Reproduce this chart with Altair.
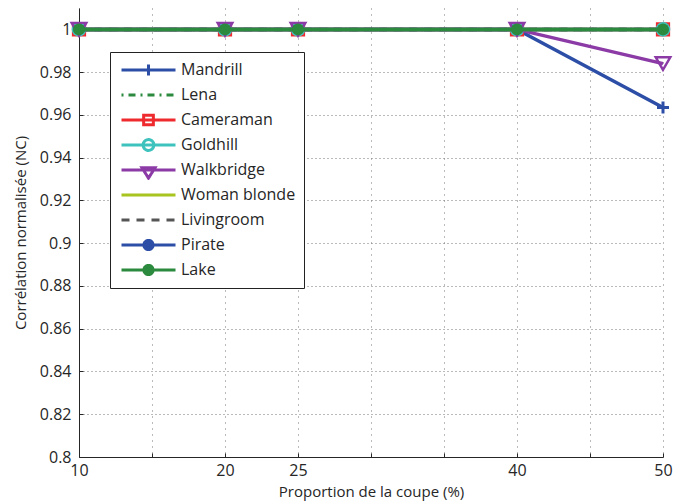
import altair as alt
import pandas as pd

# ---------------- data ----------------
x_values = [10, 20, 25, 40, 50]
series_names = ["Mandrill", "Lena", "Cameraman", "Goldhill", "Walkbridge",
                "Woman blonde", "Livingroom", "Pirate", "Lake"]
mandrill = [1.0, 1.0, 1.0, 1.0, 0.9635]
lena = [1.0, 1.0, 1.0, 1.0, 1.0]
cameraman = [1.0, 1.0, 1.0, 1.0, 1.0]
goldhill = [1.0, 1.0, 1.0, 1.0, 1.0]
walkbridge = [1.0, 1.0, 1.0, 1.0, 0.984]
woman_blonde = [1.0, 1.0, 1.0, 1.0, 1.0]
livingroom = [1.0, 1.0, 1.0, 1.0, 1.0]
pirate = [1.0, 1.0, 1.0, 1.0, 1.0]
lake = [1.0, 1.0, 1.0, 1.0, 1.0]

x_ticks = [10, 15, 20, 25, 30, 35, 40, 45, 50]
x_labelled = [10, 20, 25, 40, 50]
y_ticks = [0.8, 0.82, 0.84, 0.86, 0.88, 0.9, 0.92, 0.94, 0.96, 0.98, 1.0]

series_values = [mandrill, lena, cameraman, goldhill, walkbridge,
                 woman_blonde, livingroom, pirate, lake]
rows = []
for name, vals in zip(series_names, series_values):
    for xv, yv in zip(x_values, vals):
        rows.append({"Image": name, "Proportion": xv, "NC": yv})
df = pd.DataFrame(rows)

# ---------------- styles ----------------
BLUE = "#2d4ea6"
GREEN = "#2b8a3e"
colors = {
    "Mandrill": BLUE, "Lena": GREEN, "Cameraman": "#ee2a2f",
    "Goldhill": "#3ec2be", "Walkbridge": "#8b3aa6", "Woman blonde": "#a8c41f",
    "Livingroom": "#555555", "Pirate": BLUE, "Lake": GREEN,
}
dashes = {"Lena": [2, 5, 7, 5], "Livingroom": [8, 7]}
PLUS = "M-1,0H1M0,-1V1"
markers = {
    "Mandrill": dict(shape=PLUS, filled=False, size=144, strokeWidth=3),
    "Cameraman": dict(shape="square", filled=False, size=150, strokeWidth=2),
    "Goldhill": dict(shape="circle", filled=False, size=160, strokeWidth=2),
    "Walkbridge": dict(shape="triangle-down", filled=False, size=210, strokeWidth=2.5),
    "Pirate": dict(shape="circle", filled=True, size=121, strokeWidth=0),
    "Lake": dict(shape="circle", filled=True, size=144, strokeWidth=0),
}

# legend symbols: line + marker (unit = 27 px)
LINE = "M-1,0H1"
legend_paths = {
    "Mandrill": LINE + "M0,-0.2V0.2",
    "Lena": LINE,
    "Cameraman": LINE + "M-0.18,-0.18H0.18V0.18H-0.18Z",
    "Goldhill": LINE + "M-0.2,0A0.2,0.2 0 1,0 0.2,0A0.2,0.2 0 1,0 -0.2,0Z",
    "Walkbridge": LINE + "M-0.24,-0.08L0.24,-0.08L0,0.3Z",
    "Woman blonde": LINE,
    "Livingroom": LINE,
    "Pirate": LINE + "M-0.17,0A0.17,0.17 0 1,0 0.17,0A0.17,0.17 0 1,0 -0.17,0Z",
    "Lake": LINE + "M-0.17,0A0.17,0.17 0 1,0 0.17,0A0.17,0.17 0 1,0 -0.17,0Z",
}
legend_fill = {n: "transparent" for n in series_names}
legend_fill["Pirate"] = BLUE
legend_fill["Lake"] = GREEN

FONT = "Open Sans"
TXT = "#262626"

x_scale = alt.Scale(domain=[10, 50], nice=False, zero=False)
y_scale = alt.Scale(domain=[0.8, 1.01], nice=False, zero=False)

label_test = "indexof(" + str(x_labelled) + ", datum.value) >= 0 ? datum.label : ''"
main_x_axis = alt.Axis(
    values=x_ticks, labelExpr=label_test, title="Proportion de la coupe (%)",
    grid=True, gridDash=[1, 5], gridColor="#777777", gridWidth=1,
    ticks=False, tickSize=0, labelPadding=5, titlePadding=6,
    labelFlush=False, labelOverlap=False, domainColor=TXT, domainWidth=1,
    labelFont=FONT, labelFontSize=16, labelColor=TXT,
    titleFont=FONT, titleFontSize=15, titleFontWeight="normal", titleColor=TXT,
    orient="bottom",
)
main_y_axis = alt.Axis(
    values=y_ticks, format=".2~f", title="Corrélation normalisée (NC)",
    grid=True, gridDash=[1, 3], gridColor="#777777", gridWidth=1,
    ticks=False, tickSize=0, labelPadding=8, titlePadding=11,
    labelFlush=False, labelOverlap=False, domainColor=TXT, domainWidth=1,
    labelFont=FONT, labelFontSize=16, labelColor=TXT,
    titleFont=FONT, titleFontSize=15, titleFontWeight="normal", titleColor=TXT,
    orient="left",
)
tick_x_axis = alt.Axis(values=x_ticks, orient="bottom", offset=-4, ticks=True,
                       tickSize=4, tickColor=TXT, labels=False, domain=False,
                       grid=False, title=None)
tick_y_axis = alt.Axis(values=y_ticks, orient="left", offset=-4, ticks=True,
                       tickSize=4, tickColor=TXT, labels=False, domain=False,
                       grid=False, title=None)

layers = []
first = True
for name in series_names:
    base = alt.Chart(df).transform_filter(alt.datum.Image == name)
    xa = main_x_axis if first else None
    ya = main_y_axis if first else None
    line_kw = dict(color=colors[name], strokeWidth=3.5)
    if name in dashes:
        line_kw["strokeDash"] = dashes[name]
    layers.append(base.mark_line(**line_kw).encode(
        x=alt.X("Proportion:Q", scale=x_scale, axis=xa),
        y=alt.Y("NC:Q", scale=y_scale, axis=ya),
    ))
    first = False
    if name in markers:
        m = markers[name]
        layers.append(base.mark_point(
            shape=m["shape"], filled=m["filled"], size=m["size"],
            strokeWidth=m["strokeWidth"], color=colors[name], opacity=1,
        ).encode(
            x=alt.X("Proportion:Q", scale=x_scale, axis=None),
            y=alt.Y("NC:Q", scale=y_scale, axis=None),
        ))

legend_layer = alt.Chart(df).transform_filter("false").mark_point(
    filled=False, strokeWidth=3, opacity=1
).encode(
    x=alt.X("Proportion:Q", scale=x_scale, axis=tick_x_axis),
    y=alt.Y("NC:Q", scale=y_scale, axis=tick_y_axis),
    color=alt.Color("Image:N", scale=alt.Scale(domain=series_names,
                    range=[colors[n] for n in series_names]),
                    legend=alt.Legend(
                        title=None, orient="none", legendX=31, legendY=44,
                        padding=8, strokeColor="#222222", fillColor="white",
                        labelFont=FONT, labelFontSize=16, labelColor=TXT,
                        symbolSize=2916, symbolStrokeWidth=3, clipHeight=20,
                        rowPadding=5, labelOffset=4, symbolOffset=2,
                        labelLimit=300)),
    shape=alt.Shape("Image:N", scale=alt.Scale(domain=series_names,
                    range=[legend_paths[n] for n in series_names])),
    strokeDash=alt.StrokeDash("Image:N", scale=alt.Scale(domain=series_names,
                    range=[dashes.get(n, [1, 0]) for n in series_names])),
    fill=alt.Fill("Image:N", scale=alt.Scale(domain=series_names,
                    range=[legend_fill[n] for n in series_names])),
)

chart = alt.layer(*layers, legend_layer).resolve_axis(
    x="independent", y="independent"
).properties(
    width=584, height=449,
    padding={"left": 79, "top": 8, "right": 10, "bottom": 46},
    autosize="none",
    background="white",
).configure_view(stroke=None)

chart.save("out.html", embed_options={"renderer": "svg", "actions": False})
